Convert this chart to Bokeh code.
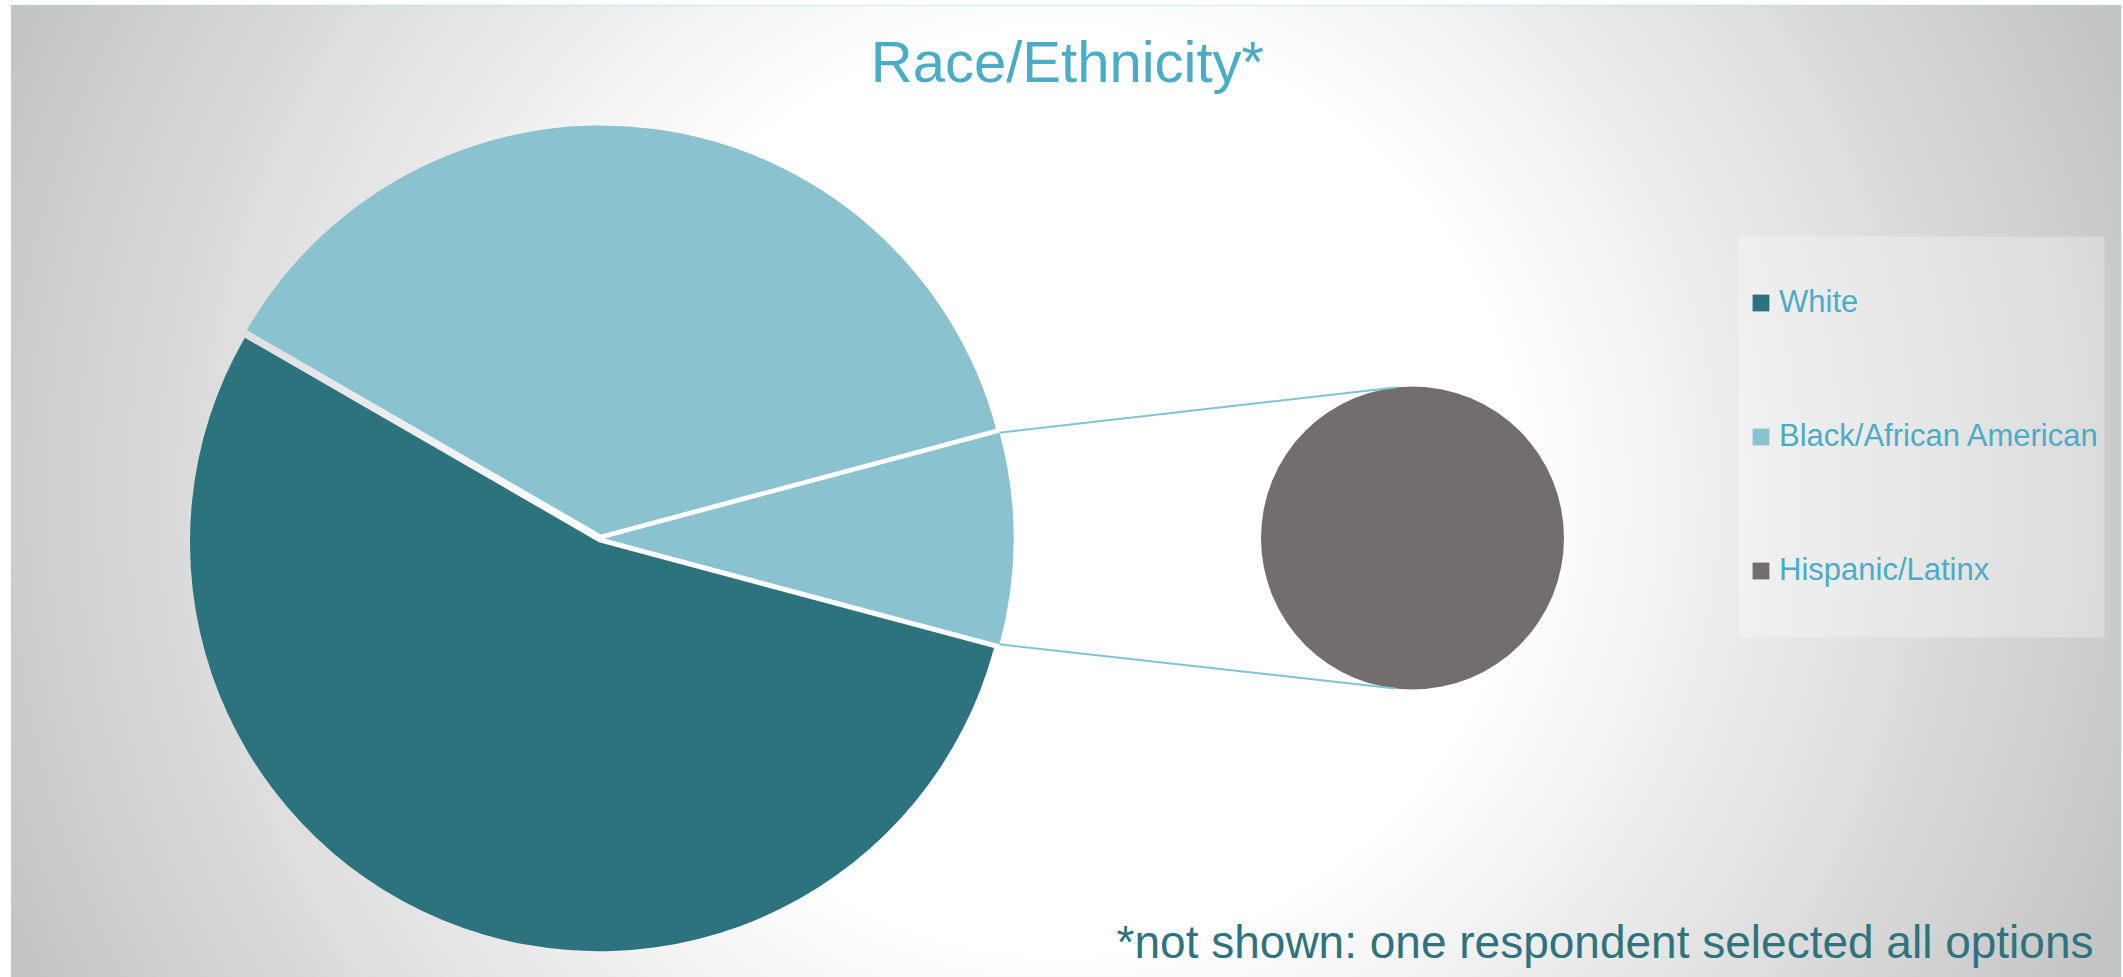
import numpy as np
from bokeh.plotting import figure
from bokeh.models import Range1d, Legend, LegendItem, Label, BoxAnnotation, ColumnDataSource
from bokeh.embed import file_html
from bokeh.resources import INLINE

# ---- data ----
categories = ["White", "Black/African American", "Hispanic/Latinx"]
counts = [13, 9, 2]
secondary_categories = ["Hispanic/Latinx"]
secondary_counts = [2]
title_text = "Race/Ethnicity*"
note_text = "*not shown: one respondent selected all options"

# ---- styles ----
main_colors = ["#2D737D", "#8AC2D0", "#8AC2D0"]
secondary_colors = ["#736E6D"]
teal = "#4BACC6"
dark_teal = "#2E737D"

W, H = 2123, 977
p = figure(width=W, height=H, x_range=Range1d(0, W), y_range=Range1d(0, H),
           x_axis_type=None, y_axis_type=None, toolbar_location=None,
           output_backend="svg", min_border=0, outline_line_color=None,
           background_fill_alpha=0, border_fill_alpha=0)
p.grid.visible = False
p.styles = {"background": "radial-gradient(circle at 1050px 486px, #ffffff 0px, #ffffff 460px, #c0c0c0 1190px) 11px 5px / 2110px 980px no-repeat, #ffffff"}

# main pie: White, Black, Other(=secondary total)
total = sum(counts)
sec_total = sum(secondary_counts)
main_vals = [counts[0], counts[1], sec_total]
spans = [2 * np.pi * v / total for v in main_vals]
half_other = spans[2] / 2
starts = [half_other + spans[1], half_other, -half_other]
ends = [2 * np.pi - half_other, half_other + spans[1], half_other]
mids = [(s + e) / 2 for s, e in zip(starts, ends)]

cx, cy, R = 600, H - 538, 409
explode = 4
mx = [cx + explode * np.cos(m) for m in mids]
my = [cy + explode * np.sin(m) for m in mids]
main_src = ColumnDataSource(dict(x=mx, y=my, start=starts, end=ends, color=main_colors,
                                 label=[categories[0], categories[1], "Other"]))
r_main = p.wedge(x="x", y="y", radius=R, start_angle="start", end_angle="end",
                 fill_color="color", line_color=None, source=main_src)

# secondary pie
scx, scy, sr = 1412, H - 537.5, 151.5
s_spans = [2 * np.pi * v / sec_total for v in secondary_counts]
s_starts = [np.pi / 2]
s_ends = [np.pi / 2 + s_spans[0]]
sec_src = ColumnDataSource(dict(x=[scx], y=[scy], start=s_starts, end=s_ends,
                                color=secondary_colors))
r_sec = p.wedge(x="x", y="y", radius=sr, start_angle="start", end_angle="end",
                fill_color="color", line_color=None, source=sec_src)

# connector lines
conn = np.deg2rad(96.5)
x0 = [mx[2] + R * np.cos(half_other), mx[2] + R * np.cos(-half_other)]
y0 = [my[2] + R * np.sin(half_other), my[2] + R * np.sin(-half_other)]
x1 = [scx + sr * np.cos(conn), scx + sr * np.cos(-conn)]
y1 = [scy + sr * np.sin(conn), scy + sr * np.sin(-conn)]
p.segment(x0=x0, y0=y0, x1=x1, y1=y1, line_color="#7FC4D0", line_width=2)

# chart border
p.add_layout(BoxAnnotation(left=11, right=2121, top=H - 5, bottom=-30,
                           fill_alpha=0, line_color="#B4DFE6", line_width=2))

# legend background box
p.add_layout(BoxAnnotation(left=1738, right=2104, top=H - 236, bottom=H - 637,
                           fill_color="white", fill_alpha=0.3, line_color=None))

legend = Legend(items=[
    LegendItem(label=categories[0], renderers=[r_main], index=0),
    LegendItem(label=categories[1], renderers=[r_main], index=1),
    LegendItem(label=categories[2], renderers=[r_sec], index=0),
], location=(1750, 389), orientation="vertical",
    border_line_color=None, background_fill_alpha=0,
    label_text_font="Liberation Sans", label_text_font_size="31px",
    label_text_color=teal, glyph_width=21, glyph_height=21,
    label_standoff=8, padding=14, spacing=98, label_height=36, margin=0)
p.add_layout(legend)

p.add_layout(Label(x=1067, y=H - 61, text=title_text, text_align="center",
                   text_baseline="alphabetic", text_font="Liberation Sans",
                   text_font_size="58px", text_color=teal))
p.add_layout(Label(x=2093, y=H - 941, text=note_text, text_align="right",
                   text_baseline="alphabetic", text_font="Liberation Sans",
                   text_font_size="46px", text_color=dark_teal))

open("out.html", "w").write(file_html(p, INLINE))
